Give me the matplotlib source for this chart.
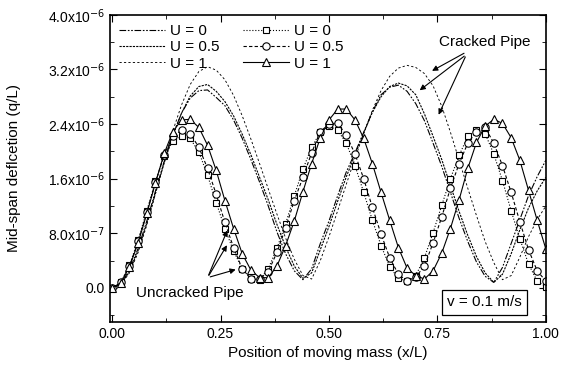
import numpy as np
import matplotlib
matplotlib.use('Agg')
import matplotlib.pyplot as plt
from matplotlib.ticker import MultipleLocator

plt.rcParams['font.family'] = ['Liberation Sans', 'DejaVu Sans']

# position of moving mass x/L
pos = np.round(np.arange(0, 1.0001, 0.02), 2)

# cracked pipe (lines), values in 1e-6
cracked_u0 = [0.00, 0.06, 0.26, 0.58, 0.98, 1.42, 1.85, 2.24, 2.56, 2.78, 2.89,
              2.90, 2.79, 2.67, 2.46, 2.19, 1.88, 1.55, 1.20, 0.82, 0.50, 0.25,
              0.12, 0.28, 0.65, 0.98, 1.35, 1.70, 1.98, 2.28, 2.58, 2.83, 2.94,
              2.97, 2.88, 2.70, 2.45, 2.12, 1.78, 1.40, 1.02, 0.68, 0.38, 0.17,
              0.08, 0.30, 0.65, 1.00, 1.35, 1.63, 1.87]
cracked_u05 = [0.00, 0.05, 0.24, 0.55, 0.95, 1.39, 1.83, 2.23, 2.56, 2.81, 2.95,
               2.98, 2.88, 2.73, 2.52, 2.25, 1.95, 1.62, 1.29, 0.93, 0.60, 0.32,
               0.14, 0.22, 0.56, 0.90, 1.27, 1.63, 1.95, 2.27, 2.57, 2.80, 2.95,
               3.00, 2.96, 2.83, 2.55, 2.22, 1.88, 1.50, 1.12, 0.77, 0.46, 0.22,
               0.08, 0.20, 0.50, 0.85, 1.17, 1.42, 1.62]
cracked_u1 = [0.00, 0.05, 0.22, 0.52, 0.92, 1.38, 1.85, 2.30, 2.68, 2.98, 3.17,
              3.24, 3.19, 3.05, 2.82, 2.52, 2.18, 1.82, 1.45, 1.08, 0.73, 0.42,
              0.18, 0.13, 0.40, 0.75, 1.13, 1.52, 1.90, 2.26, 2.60, 2.89, 3.10,
              3.22, 3.26, 3.23, 3.14, 2.96, 2.66, 2.28, 1.87, 1.46, 1.06, 0.68,
              0.37, 0.12, 0.18, 0.45, 0.75, 1.00, 1.20]

# uncracked pipe (markers), values in 1e-6
uncracked_u0 = [0.00, 0.08, 0.33, 0.70, 1.13, 1.56, 1.93, 2.15, 2.22, 2.19, 1.99,
                1.65, 1.25, 0.87, 0.54, 0.28, 0.13, 0.12, 0.28, 0.58, 0.94, 1.35,
                1.74, 2.06, 2.28, 2.37, 2.31, 2.12, 1.79, 1.40, 0.99, 0.62, 0.31,
                0.14, 0.10, 0.18, 0.44, 0.81, 1.21, 1.60, 1.94, 2.22, 2.31, 2.26,
                1.96, 1.57, 1.13, 0.72, 0.35, 0.10, 0.02]
uncracked_u05 = [0.00, 0.08, 0.32, 0.68, 1.11, 1.55, 1.95, 2.22, 2.31, 2.26, 2.06,
                 1.75, 1.37, 0.96, 0.59, 0.28, 0.13, 0.13, 0.24, 0.52, 0.88, 1.28,
                 1.62, 1.98, 2.29, 2.40, 2.41, 2.24, 1.96, 1.60, 1.18, 0.79, 0.44,
                 0.20, 0.10, 0.16, 0.32, 0.66, 1.04, 1.46, 1.82, 2.12, 2.29, 2.35,
                 2.12, 1.79, 1.40, 0.97, 0.56, 0.25, 0.10]
uncracked_u1 = [0.00, 0.07, 0.31, 0.66, 1.09, 1.54, 1.97, 2.29, 2.46, 2.47, 2.35,
                2.09, 1.72, 1.28, 0.87, 0.50, 0.26, 0.15, 0.15, 0.32, 0.62, 0.98,
                1.41, 1.82, 2.20, 2.46, 2.62, 2.62, 2.46, 2.19, 1.82, 1.40, 0.99,
                0.59, 0.29, 0.18, 0.13, 0.25, 0.51, 0.87, 1.29, 1.75, 2.13, 2.37,
                2.47, 2.41, 2.20, 1.87, 1.43, 0.99, 0.57]

ytick_vals = [0.0, 0.8, 1.6, 2.4, 3.2, 4.0]
ytick_labels = ['0.0', '8.0x10$^{-7}$', '1.6x10$^{-6}$', '2.4x10$^{-6}$',
                '3.2x10$^{-6}$', '4.0x10$^{-6}$']
xtick_vals = [0.0, 0.25, 0.5, 0.75, 1.0]

s = 1e-6
fig = plt.figure(figsize=(5.61, 3.71), dpi=100)
ax = fig.add_axes([0.196, 0.132, 0.777, 0.828])

lw = 0.8
ax.plot(pos, np.array(cracked_u0) * s, color='black', lw=lw,
        dashes=(6, 1.5, 1.5, 1.5, 1.5, 1.5), label='U = 0')
ax.plot(pos, np.array(cracked_u05) * s, color='black', lw=lw,
        dashes=(2, 1), label='U = 0.5')
ax.plot(pos, np.array(cracked_u1) * s, color='black', lw=lw * 0.8,
        dashes=(2.5, 2.5), label='U = 1')

ax.plot(pos, np.array(uncracked_u0) * s, color='black', lw=lw, ls=':',
        marker='s', ms=4.8, mfc='white', mec='black', mew=0.8, label='U = 0')
ax.plot(pos, np.array(uncracked_u05) * s, color='black', lw=lw, dashes=(3, 2),
        marker='o', ms=5.3, mfc='white', mec='black', mew=0.8, label='U = 0.5')
ax.plot(pos, np.array(uncracked_u1) * s, color='black', lw=lw, ls='-',
        marker='^', ms=6.3, mfc='white', mec='black', mew=0.8, label='U = 1')

ax.set_xlim(-0.005, 0.998)
ax.set_ylim(-0.5e-6, 4.0e-6)
ax.set_xticks(xtick_vals)
ax.set_xticklabels(['0.00', '0.25', '0.50', '0.75', '1.00'])
ax.set_yticks([v * s for v in ytick_vals])
ax.set_yticklabels(ytick_labels)
ax.xaxis.set_minor_locator(MultipleLocator(0.125))
ax.yaxis.set_minor_locator(MultipleLocator(0.4e-6))
ax.tick_params(which='both', direction='in', top=True, right=True, labelsize=10)
ax.tick_params(which='major', length=5)
ax.tick_params(which='minor', length=3)
for sp in ax.spines.values():
    sp.set_linewidth(1.2)

ax.set_xlabel('Position of moving mass (x/L)', fontsize=11)
ax.set_ylabel('Mid-span deflcetion (q/L)', fontsize=11)
ax.yaxis.set_label_coords(-0.205, 0.5)

ax.legend(ncol=2, loc='upper left', frameon=False, fontsize=11,
          handlelength=3.0, columnspacing=1.6, labelspacing=0.15,
          borderaxespad=0.2, handletextpad=0.3)

arrow = dict(arrowstyle='-|>', color='black', lw=0.8, mutation_scale=8)
ax.annotate('Cracked Pipe', xy=(0.732, 3.16e-6), xytext=(0.858, 3.6e-6),
            ha='center', va='center', fontsize=11, arrowprops=arrow)
ax.annotate('', xy=(0.704, 2.87e-6), xytext=(0.817, 3.42e-6), arrowprops=arrow)
ax.annotate('', xy=(0.75, 2.5e-6), xytext=(0.817, 3.42e-6), arrowprops=arrow)

ax.annotate('', xy=(0.268, 0.88e-6), xytext=(0.22, 0.15e-6), arrowprops=arrow)
ax.annotate('', xy=(0.268, 0.66e-6), xytext=(0.22, 0.15e-6), arrowprops=arrow)
ax.annotate('', xy=(0.291, 0.28e-6), xytext=(0.22, 0.15e-6), arrowprops=arrow)
ax.text(0.18, -0.07e-6, 'Uncracked Pipe', ha='center', va='center', fontsize=11)

ax.text(0.858, -0.21e-6, 'v = 0.1 m/s', ha='center', va='center', fontsize=11,
        bbox=dict(boxstyle='square,pad=0.35', fc='white', ec='black', lw=0.9))

fig.savefig('out.png', dpi=100)
